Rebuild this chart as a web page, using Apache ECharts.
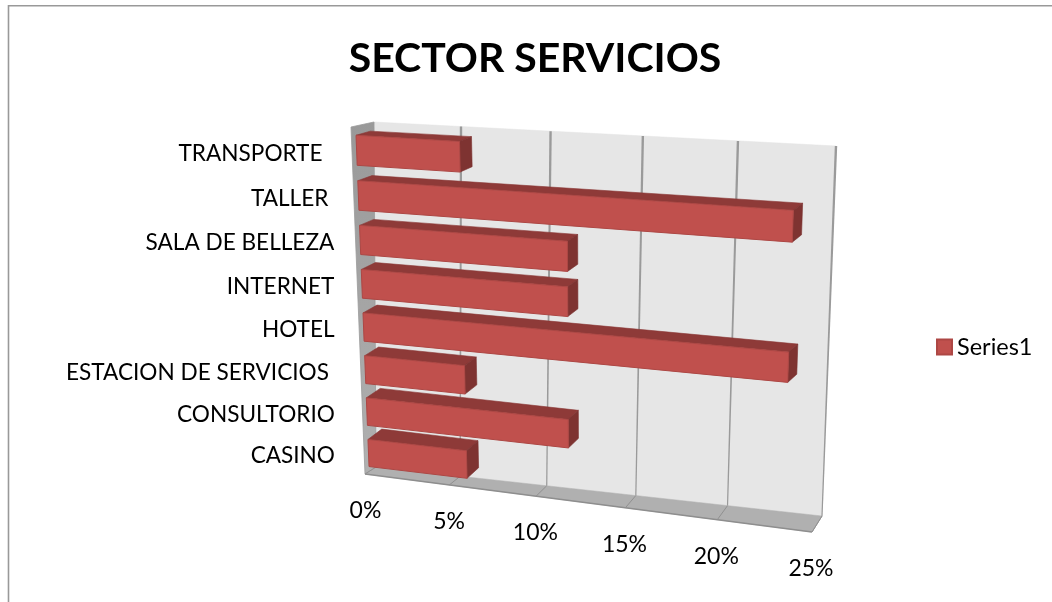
<!DOCTYPE html>
<html><head><meta charset="utf-8">
<style>html,body{margin:0;padding:0;background:#fff}#c{width:1052px;height:602px}</style>
<script src="https://cdn.jsdelivr.net/npm/echarts@6/dist/echarts.min.js"></script></head>
<body><div id="c"></div>
<script>
const categories = ['CASINO','CONSULTORIO','ESTACION DE SERVICIOS ','HOTEL','INTERNET','SALA DE BELLEZA','TALLER ','TRANSPORTE  '];
const values = [5.88,11.76,5.88,23.53,11.76,11.76,23.53,5.88];
const ticks = [0,5,10,15,20,25];
const tickLabels = ['0%','5%','10%','15%','20%','25%'];
const FONT = 'Lato, "Open Sans", sans-serif';

// Perspective planes: corners [top-left, top-right, bottom-right, bottom-left]
const planeBack  = [[374,122],[836,146],[822,516],[376,467]];
const planeFront = [[351,127],[826,161],[812,532],[365,474]];
const planeBarF  = [[355.7,127.5],[825,155],[811,527],[369.3,473.5]];
const planeBarR  = [[370,123.5],[834.5,148],[820,518],[383,462.5]];

function homography(q){
  const [[x0,y0],[x1,y1],[x2,y2],[x3,y3]] = q;
  const dx1=x1-x2, dx2=x3-x2, sx=x0-x1+x2-x3, dy1=y1-y2, dy2=y3-y2, sy=y0-y1+y2-y3;
  const d=dx1*dy2-dx2*dy1;
  const g=(sx*dy2-dx2*sy)/d, h=(dx1*sy-sx*dy1)/d;
  const a=x1-x0+g*x1, b=x3-x0+h*x3, c=x0, e=y1-y0+g*y1, f=y3-y0+h*y3, k=y0;
  return (u,t)=>{const w=g*u+h*t+1;return [(a*u+b*t+c)/w,(e*u+f*t+k)/w];};
}
const HB=homography(planeBack), HF=homography(planeFront), HBF=homography(planeBarF), HBR=homography(planeBarR);

const chart = echarts.init(document.getElementById('c'),null,{renderer:'canvas'});
const norm=(p,cs)=>[(p[0]-cs.x)/cs.width,(p[1]-cs.y)/cs.height];
const poly=(pts,fill,stroke,lw)=>({type:'polygon',shape:{points:pts},style:{fill,stroke:stroke||fill,lineWidth:lw===undefined?0.6:lw}});
const line=(a,b,color,w)=>({type:'line',shape:{x1:a[0],y1:a[1],x2:b[0],y2:b[1]},style:{stroke:color,lineWidth:w,fill:null}});

function renderWalls(params,api){
  return {type:'group',children:[
    poly(planeBack,'#e6e6e6','#e2e2e2',0.5),
    poly([planeFront[3],planeFront[2],planeBack[2],planeBack[3]],'#b0b0b0','#b0b0b0',0.5),
    poly([planeFront[0],planeBack[0],planeBack[3],planeFront[3]],{type:'linear',x:0,y:0,x2:0,y2:1,colorStops:[{offset:0,color:'#999999'},{offset:1,color:'#b0b0b0'}]},'#9b9b9b',0.8),
    line(planeFront[3],planeFront[2],'#8e8e8e',1.5),
    line(planeFront[2],planeBack[2],'#a0a0a0',1)
  ]};
}
function renderGrid(params,api){
  const u=norm(api.coord([api.value(0),0]),params.coordSys)[0];
  const top=HB(u,0),bot=HB(u,1),fr=HF(u,1);
  const ch=[line(bot,fr,'#909090',1)];
  if(u>0) ch.push(poly([[top[0]-1.2,top[1]],[top[0]+1.2,top[1]],[bot[0]+0.6,bot[1]],[bot[0]-0.6,bot[1]]],'#9a9a9a','#9a9a9a',0));
  return {type:'group',children:ch};
}
function renderTick(params,api){
  const u=norm(api.coord([api.value(0),0]),params.coordSys)[0];
  const p=HF(u,1);
  return {type:'text',style:{text:tickLabels[params.dataIndex],x:p[0]-1+1.5*(1-u)*(1-u)*(1-u),y:p[1]+36.5,align:'center',verticalAlign:'middle',fill:'#000',font:'23px '+FONT}};
}
function renderBar(params,api){
  const cs=params.coordSys, band=api.size([0,1])[1], half=band*0.33;
  const c0=api.coord([0,api.value(1)]), c1=api.coord([api.value(0),api.value(1)]);
  const u1=norm(c1,cs)[0], tT=(c0[1]-half-cs.y)/cs.height, tB=(c0[1]+half-cs.y)/cs.height;
  const fTL=HBF(0,tT),fTR=HBF(u1,tT),fBR=HBF(u1,tB),fBL=HBF(0,tB),rTL=HBR(0,tT),rTR=HBR(u1,tT),rBR=HBR(u1,tB);
  return {type:'group',children:[
    poly([fTL,rTL,rTR,fTR],'#8e3a38','#8a3634'),
    poly([fTR,rTR,rBR,fBR],'#7e3331','#7a312f'),
    poly([fTL,fTR,fBR,fBL],'#c0504d','#ad4744',1)
  ]};
}
function renderCat(params,api){
  const cs=params.coordSys, c0=api.coord([0,api.value(1)]);
  const t=(c0[1]-cs.y)/cs.height, p=HBF(0,t);
  return {type:'text',style:{text:categories[params.dataIndex],x:334+1*t,y:p[1]+3,align:'right',verticalAlign:'middle',fill:'#000',font:'22.6px '+FONT}};
}
const silent={silent:true,tooltip:{show:false}};
chart.setOption({
  animation:false,
  title:{text:'SECTOR SERVICIOS',left:530,top:33,textAlign:'center',textStyle:{fontFamily:FONT,fontSize:41,fontWeight:'bold',color:'#000'}},
  legend:{data:[{name:'Series1',icon:'rect'}],left:936,top:335,padding:0,itemWidth:15,itemHeight:15,itemGap:6,textStyle:{fontFamily:FONT,fontSize:23.5,color:'#000'}},
  grid:{left:100,top:100,width:800,height:400,containLabel:false},
  xAxis:{type:'value',min:0,max:25,interval:5,show:false},
  yAxis:{type:'category',data:categories,show:false},
  graphic:[{type:'polyline',shape:{points:[[8.5,602],[8.5,5.7],[1052,5.7]]},style:{stroke:'#999999',lineWidth:1.6,fill:null},silent:true}],
  series:[
    Object.assign({type:'custom',name:'walls',renderItem:renderWalls,data:[[0,0]]},silent),
    Object.assign({type:'custom',name:'gridlines',renderItem:renderGrid,data:ticks.map(v=>[v,0])},silent),
    Object.assign({type:'custom',name:'ticks',renderItem:renderTick,data:ticks.map(v=>[v,0])},silent),
    {type:'custom',name:'Series1',renderItem:renderBar,itemStyle:{color:'#c0504d',borderColor:'#ad4744',borderWidth:1},data:values.map((v,i)=>[v,i])},
    Object.assign({type:'custom',name:'cats',renderItem:renderCat,data:categories.map((c,i)=>[0,i])},silent)
  ]
});
</script></body></html>
